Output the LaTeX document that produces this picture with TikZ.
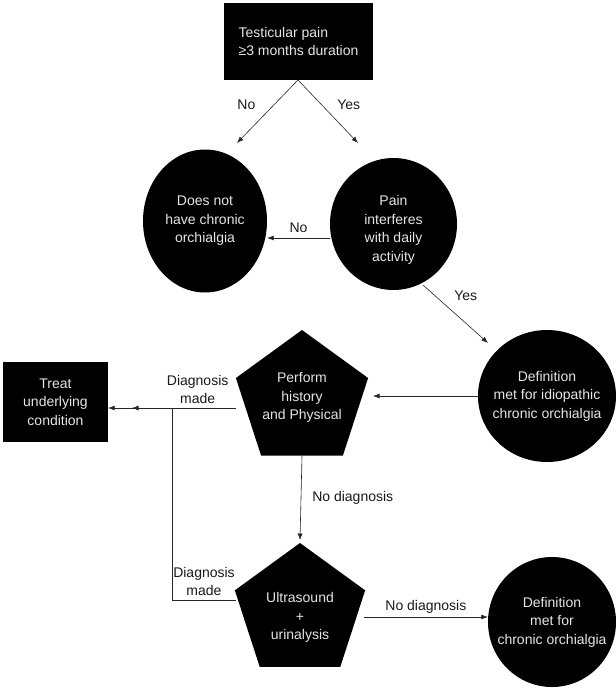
\documentclass[tikz,border=0pt]{standalone}
\usepackage{fontspec}
\setmainfont{Liberation Sans}
\usetikzlibrary{arrows.meta,positioning,shapes.geometric}
\definecolor{shapetext}{gray}{0.9}
\definecolor{edgetext}{gray}{0.1}

\begin{document}
\begin{tikzpicture}[x=1pt, y=-1pt, >={Latex[length=6.5pt,width=5pt]},
  font=\fontsize{14}{18.5}\selectfont,
  flow/.style={->, line width=0.6pt, draw=black!85},
  box/.style={fill=black, text=shapetext, align=center, inner sep=0pt},
  oval/.style={ellipse, fill=black, inner sep=0pt},
  penta/.style={regular polygon, regular polygon sides=5, fill=black, inner sep=0pt},
  inside/.style={text=shapetext, align=center, inner sep=0pt},
  tag/.style={text=edgetext, align=center, inner sep=1pt}]
  \useasboundingbox (0,0) rectangle (616,689);

  % shapes
  \node[box, minimum width=149pt, minimum height=77pt, align=left] (pain) at (298.5,41.5) {Testicular pain\\≥3 months duration};
  \node[oval, minimum width=124pt, minimum height=143pt, label={[inside]center:Does not\\have chronic\\orchialgia}] (notchronic) at (205,221) {};
  \node[oval, minimum width=127pt, minimum height=132pt, label={[inside, yshift=-6pt]center:Pain\\interferes\\with daily\\activity}] (interferes) at (393.5,224) {};
  \node[oval, minimum width=138pt, minimum height=132pt, label={[inside]center:Definition\\met for idiopathic\\chronic orchialgia}] (idiopathic) at (547,396) {};
  \node[penta, minimum size=139pt, label={[inside, yshift=2pt]center:Perform\\history\\and Physical}] (history) at (302,399.5) {};
  \node[box, minimum width=105pt, minimum height=80pt] (treat) at (55.5,402) {Treat\\underlying\\condition};
  \node[penta, minimum size=137pt, label={[inside, yshift=-6pt]center:Ultrasound\\+\\urinalysis}] (ultrasound) at (300,611.5) {};
  \node[oval, minimum width=128pt, minimum height=130pt, label={[inside]center:Definition\\met for\\chronic orchialgia}] (chronic) at (552,622) {};

  % free ends
  \coordinate (painS) at (298,80);
  \coordinate (noEnd) at (237,143);
  \coordinate (yesEnd) at (358,143);
  \coordinate (yesStart) at (423,285);
  \coordinate (yesTip) at (488,343);
  \coordinate (histE) at (373,396);
  \coordinate (histW) at (236,408);
  \coordinate (join) at (172,408);
  \coordinate (treatTip) at (132,408);
  \coordinate (ultraN) at (300,540);
  \coordinate (ultraW) at (236,600);
  \coordinate (ultraE) at (364,617);

  % connectors
  \draw[flow] (painS) -- node[tag, pos=.4, left=17pt] {No} (noEnd);
  \draw[flow] (painS) -- node[tag, pos=.4, right=14pt] {Yes} (yesEnd);
  \draw[flow] (interferes.west |- 0,238) -- node[tag, above=4pt] {No} (notchronic.east |- 0,238);
  \draw[flow] (yesStart) -- node[tag, pos=.35, xshift=20pt, yshift=10pt] {Yes} (yesTip);
  \draw[flow] (idiopathic.west |- histE) -- (histE);
  \draw[flow] (histW) -- node[tag, pos=.3, above=3pt] {Diagnosis\\made} (treat.east |- histW);
  \draw[flow] (ultraW) -- node[tag, above=3pt] {Diagnosis\\made} (join |- ultraW) -- (join) -- (treatTip);
  \draw[flow] (history.south) -- node[tag, right=10pt] {No diagnosis} (ultraN);
  \draw[flow] (ultraE) -- node[tag, above=2pt] {No diagnosis} (chronic.west |- ultraE);
\end{tikzpicture}
\end{document}
